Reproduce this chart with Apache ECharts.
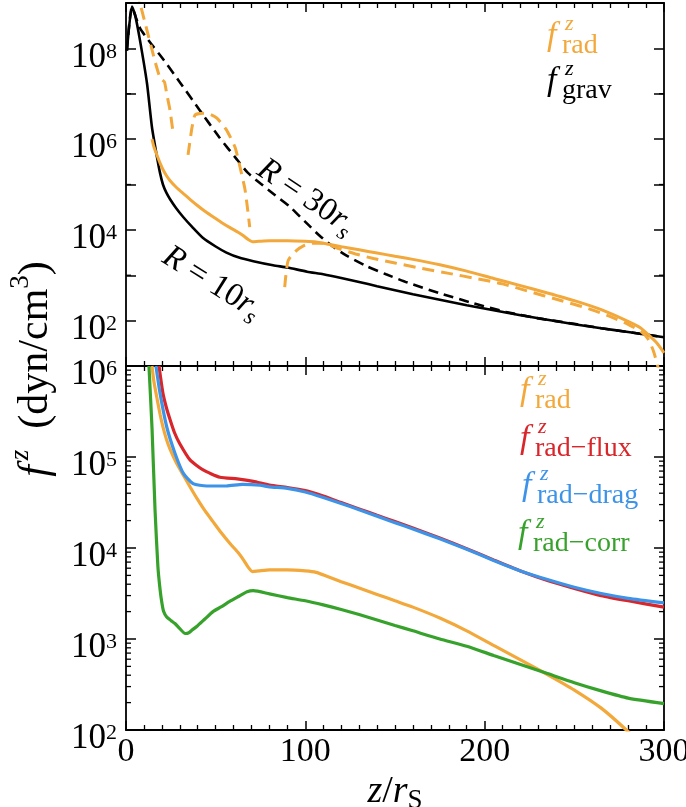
<!DOCTYPE html>
<html><head><meta charset="utf-8">
<script src="https://cdn.jsdelivr.net/npm/echarts@6/dist/echarts.min.js"></script>
<style>html,body{margin:0;padding:0;background:#fff}#c{width:686px;height:807px}</style>
</head><body><div id="c"></div>
<script>
// ---------- data (z / r_S , f^z in dyn/cm^3) ----------
const xTicks = [0, 100, 200, 300];
const topYLabelExps = [2, 4, 6, 8];
const topMinorExps = [3, 5, 7];
const botYLabelExps = [2, 3, 4, 5, 6];
const minorMults = [2, 3, 4, 5, 6, 7, 8, 9];

// top panel: gravity R=10 (solid black)
const gravR10 = [[0.5,8.9e7],[3.3,8.3e8],[5,5.6e8],[7.8,1.5e8],[11.7,1.7e7],[14.5,1.8e6],[17.3,4.0e5],[19,1.78e5],[20.6,1.0e5],[22.5,6.6e4],[24.5,4.8e4],[28,3.0e4],[32,1.9e4],[37,1.15e4],[43,6.6e3],[50,4.3e3],[56,3.16e3],[63,2.45e3],[71,2.04e3],[82,1.66e3],[90,1.48e3],[101,1.2e3],[110,1.05e3],[120,870],[130,708],[140,575],[150,468],[160,380],[175,288],[190,219],[205,170],[220,132],[235,105],[250,83],[265,68],[280,56],[300,43]];
// top panel: gravity R=30 (dashed black)
const gravR30 = [[0.5,8.9e7],[3.3,7.9e8],[7.8,2.8e8],[14,1.26e8],[20,6.3e7],[30,1.8e7],[41,4.4e6],[52,1.1e6],[62,3.5e5],[68,1.8e5],[75,1.05e5],[83,5.9e4],[91.5,3.2e4],[100,1.5e4],[108,7.4e3],[115,4.4e3],[123,2.7e3],[134,1.6e3],[145,1.05e3],[157,690],[175,400],[194,240],[212,155],[230,112],[250,85],[265,68],[280,56],[300,43]];
// radiation force R=10 (solid orange, both panels)
const fRadR10 = [[14.5,1.0e6],[15.5,6.9e5],[17.3,4.4e5],[19,2.95e5],[20.6,2.14e5],[22.5,1.58e5],[24.5,1.23e5],[28,8.7e4],[32,6.3e4],[36,4.6e4],[40,3.4e4],[44,2.57e4],[48.5,1.95e4],[53,1.48e4],[58,1.12e4],[62.5,8.9e3],[65.5,7.4e3],[68,6.2e3],[70.5,5.5e3],[74,5.6e3],[80,5.75e3],[90,5.75e3],[100,5.6e3],[106,5.4e3],[112,4.9e3],[120,4.27e3],[130,3.63e3],[140,3.09e3],[150,2.63e3],[160,2.24e3],[175,1.7e3],[190,1.23e3],[205,850],[220,590],[235,407],[250,275],[265,174],[279,100],[287,69],[292,46],[296,32],[300,19.5]];
// radiation force R=30 (dashed orange), three branches
const fRadR30a = [[6.5,2e9],[7.8,1e9],[11.7,2.5e8],[16,5.5e7],[19,2.2e7],[20.3,2.0e7],[21.5,1.8e7],[22.7,1.0e7],[24.5,4.4e6],[26.4,1.26e6]];
const fRadR30b = [[34.6,4.5e5],[36.8,1.8e6],[38.5,3.4e6],[43,3.7e6],[47,3.5e6],[50.7,2.9e6],[56,1.6e6],[60.8,6.6e5],[63.6,2.4e5],[66.4,7.6e4],[69,1.15e4]];
const fRadR30c = [[88.5,550],[90.4,2.1e3],[95,3.5e3],[98.7,4.4e3],[104,5.1e3],[110,5.1e3],[119,3.8e3],[128,2.95e3],[138,2.34e3],[150,1.86e3],[165,1.41e3],[180,1.1e3],[195,850],[210,645],[225,437],[240,295],[255,200],[268,132],[280,83],[287,58],[291,40],[294,22],[296.5,10],[298,5]];
// bottom panel components
const fRadFlux = [[18.4,1.0e6],[20.6,5.0e5],[22.5,3.5e5],[24.5,2.6e5],[27,1.86e5],[30,1.4e5],[35.7,9.3e4],[43,7.2e4],[52.4,6.0e4],[62,5.75e4],[71,5.4e4],[80,4.9e4],[90,4.62e4],[100,4.27e4],[110,3.72e4],[120,3.16e4],[130,2.69e4],[140,2.29e4],[150,1.95e4],[160,1.66e4],[175,1.29e4],[190,9.8e3],[205,7.4e3],[220,5.6e3],[235,4.4e3],[250,3.6e3],[265,3.0e3],[280,2.63e3],[300,2.24e3]];
const fRadDrag = [[16.7,1.0e6],[19,5.0e5],[22.7,2.15e5],[27.3,1.1e5],[32,6.6e4],[37.4,5.1e4],[45,4.8e4],[56,4.8e4],[65,5.0e4],[74.7,4.9e4],[80,4.7e4],[90,4.52e4],[100,4.12e4],[110,3.59e4],[120,3.09e4],[130,2.63e4],[140,2.24e4],[150,1.9e4],[160,1.62e4],[175,1.26e4],[190,9.7e3],[205,7.3e3],[220,5.6e3],[235,4.5e3],[250,3.7e3],[265,3.16e3],[280,2.8e3],[300,2.5e3]];
const fRadCorr = [[12.8,1.0e6],[14.5,2.1e5],[16.2,2.6e4],[17.8,6.2e3],[19,3.5e3],[20,2.5e3],[21,2.0e3],[22.7,1.74e3],[25,1.6e3],[27.3,1.48e3],[30,1.3e3],[33,1.15e3],[35,1.17e3],[37,1.26e3],[39.6,1.38e3],[44,1.66e3],[48.5,2.0e3],[53,2.25e3],[58,2.6e3],[63,2.95e3],[67.5,3.3e3],[71,3.4e3],[80,3.13e3],[90,2.85e3],[100,2.63e3],[110,2.37e3],[120,2.11e3],[130,1.86e3],[140,1.62e3],[150,1.41e3],[160,1.23e3],[175,1.0e3],[190,832],[205,660],[220,525],[235,417],[250,331],[265,269],[280,224],[300,195]];

// ---------- styling ----------
const SERIF = "'Liberation Serif','DejaVu Serif','Times New Roman',serif";
const ORANGE = '#F2A83A', RED = '#D8262B', BLUE = '#3D93E8', GREEN = '#37A22B', BLACK = '#000';

const chart = echarts.init(document.getElementById('c'), null, {renderer: 'canvas'});

const tickLine = {color: '#000', width: 1.5};
function xAx(grid, pos, labels) {
  return {
    type: 'value', gridIndex: grid, position: pos, min: 0, max: 300, interval: 100,
    axisLine: {show: true, onZero: false, lineStyle: {color: '#000', width: 1.8}},
    axisTick: {show: true, inside: true, length: 9, lineStyle: tickLine},
    minorTick: {show: true, splitNumber: 10, length: 5, lineStyle: {color: '#000', width: 1.3}},
    splitLine: {show: false}, minorSplitLine: {show: false},
    axisLabel: labels ? {show: true, color: '#000', fontFamily: SERIF, fontSize: 34, margin: 5,
      formatter: v => xTicks.includes(v) ? String(v) : ''} : {show: false},
  };
}
const yRich = {
  b: {color: '#000', fontFamily: SERIF, fontSize: 35, lineHeight: 34, verticalAlign: 'bottom'},
  e: {color: '#000', fontFamily: SERIF, fontSize: 22, lineHeight: 18, verticalAlign: 'top'}
};
function yAx(grid, pos, min, max, exps, labels) {
  return {
    type: 'log', logBase: 10, gridIndex: grid, position: pos, min: min, max: max,
    axisLine: {show: true, onZero: false, lineStyle: {color: '#000', width: 1.8}},
    axisTick: {show: true, inside: true, length: 10, lineStyle: tickLine},
    splitLine: {show: false},
    axisLabel: labels ? {show: true, margin: 9, padding: [19, 0, 0, 0], rich: yRich,
      formatter: v => { const n = Math.round(Math.log10(v)); return exps.includes(n) ? '{b|10}{e|' + n + '}' : ''; }} : {show: false},
  };
}

function line(name, data, color, width, xi, yi, dash, z) {
  return {
    type: 'line', name, data, xAxisIndex: xi, yAxisIndex: yi, showSymbol: false, symbol: 'none',
    smooth: 0.2, clip: true, z: z || 2, animation: false,
    lineStyle: {color, width, type: dash || 'solid', cap: 'butt'}
  };
}

// decorative short ticks (positions derived from axis scales)
function tickSeries(xi, yi, vals, len) {
  return {
    type: 'custom', xAxisIndex: xi, yAxisIndex: yi, silent: true, z: 5, animation: false,
    encode: {x: 0, y: 1},
    data: vals.map(v => [0, v, len]),
    renderItem: (params, api) => {
      const v = api.value(1), l = api.value(2);
      const a = api.coord([0, v]), b = api.coord([300, v]);
      return {type: 'group', children: [
        {type: 'line', shape: {x1: a[0], y1: a[1], x2: a[0] + l, y2: a[1]}, style: {stroke: '#000', lineWidth: 1.3}},
        {type: 'line', shape: {x1: b[0], y1: b[1], x2: b[0] - l, y2: b[1]}, style: {stroke: '#000', lineWidth: 1.3}}
      ]};
    }
  };
}
const topMinorVals = topMinorExps.map(k => Math.pow(10, k));
const botMinorVals = [];
[2, 3, 4, 5].forEach(k => minorMults.forEach(m => botMinorVals.push(m * Math.pow(10, k))));

function legendEntry(x, y, color, sub) {
  return {type: 'group', x: x, y: y, children: [
    {type: 'text', x: 0, y: 0, style: {text: 'f', fill: color, font: 'italic 34px ' + SERIF, verticalAlign: 'middle', align: 'left'}},
    {type: 'text', x: 18, y: -12, style: {text: 'z', fill: color, font: 'italic 22px ' + SERIF, verticalAlign: 'middle', align: 'left'}},
    {type: 'text', x: 15, y: 9, style: {text: sub, fill: color, font: '28px ' + SERIF, verticalAlign: 'middle', align: 'left'}}
  ]};
}
const annRich = {
  i: {fill: '#000', fontFamily: SERIF, fontStyle: 'italic', fontSize: 33, lineHeight: 42, verticalAlign: 'middle'},
  t: {fill: '#000', fontFamily: SERIF, fontSize: 33, lineHeight: 42, verticalAlign: 'middle'},
  s: {fill: '#000', fontFamily: SERIF, fontStyle: 'italic', fontSize: 23, lineHeight: 23, verticalAlign: 'bottom'}
};
const yNameRich = {
  f: {fill: '#000', fontFamily: SERIF, fontStyle: 'italic', fontSize: 42, lineHeight: 58, verticalAlign: 'middle'},
  z: {fill: '#000', fontFamily: SERIF, fontStyle: 'italic', fontSize: 27, lineHeight: 27, verticalAlign: 'top', padding: [0, 0, 0, 5]},
  t: {fill: '#000', fontFamily: SERIF, fontSize: 42, lineHeight: 58, verticalAlign: 'middle'},
  c: {fill: '#000', fontFamily: SERIF, fontSize: 27, lineHeight: 27, verticalAlign: 'top'}
};

const option = {
  animation: false,
  backgroundColor: '#fff',
  grid: [
    {left: 126, top: 3, width: 538, height: 363, outerBoundsMode: 'none', containLabel: false},
    {left: 126, top: 366, width: 538, height: 364, outerBoundsMode: 'none', containLabel: false}
  ],
  xAxis: [
    xAx(0, 'bottom', false), xAx(0, 'top', false),
    Object.assign(xAx(1, 'bottom', true), {
      name: '{i|z}{t|/}{i|r}{s|S}', nameLocation: 'middle', nameGap: 40,
      nameTextStyle: {rich: {
        i: {color: '#000', fontFamily: SERIF, fontStyle: 'italic', fontSize: 38, lineHeight: 44, verticalAlign: 'middle'},
        t: {color: '#000', fontFamily: SERIF, fontSize: 38, lineHeight: 44, verticalAlign: 'middle'},
        s: {color: '#000', fontFamily: SERIF, fontSize: 27, lineHeight: 26, verticalAlign: 'bottom'}
      }}
    }),
    xAx(1, 'top', false)
  ],
  yAxis: [
    yAx(0, 'left', 10, 1e9, topYLabelExps, true), yAx(0, 'right', 10, 1e9, topYLabelExps, false),
    yAx(1, 'left', 100, 1e6, botYLabelExps, true), yAx(1, 'right', 100, 1e6, botYLabelExps, false)
  ],
  series: [
    line('gravR30', gravR30, BLACK, 2.6, 0, 0, [10, 6], 2),
    line('gravR10', gravR10, BLACK, 2.6, 0, 0, 'solid', 3),
    line('fradR10', fRadR10, ORANGE, 3, 0, 0, 'solid', 4),
    line('fradR30a', fRadR30a, ORANGE, 3, 0, 0, [12, 7], 4),
    line('fradR30b', fRadR30b, ORANGE, 3, 0, 0, [12, 7], 4),
    line('fradR30c', fRadR30c, ORANGE, 3, 0, 0, [12, 7], 4),
    line('frad', fRadR10, ORANGE, 3.2, 2, 2, 'solid', 2),
    line('fradFlux', fRadFlux, RED, 3.2, 2, 2, 'solid', 3),
    line('fradDrag', fRadDrag, BLUE, 3.2, 2, 2, 'solid', 4),
    line('fradCorr', fRadCorr, GREEN, 3.2, 2, 2, 'solid', 5),
    tickSeries(0, 0, topMinorVals, 5),
    tickSeries(2, 2, botMinorVals, 5)
  ],
  graphic: [
    legendEntry(547, 36.5, ORANGE, 'rad'),
    legendEntry(547, 81.5, BLACK, 'grav'),
    legendEntry(520, 391.5, ORANGE, 'rad'),
    legendEntry(520, 439.5, RED, 'rad\u2212flux'),
    legendEntry(522, 486.5, BLUE, 'rad\u2212drag'),
    legendEntry(518, 534.5, GREEN, 'rad\u2212corr'),
    {type: 'text', x: 306, y: 197, rotation: -34 * Math.PI / 180,
      style: {text: '{i|R}{t| = 30}{i|r}{s|s}', rich: annRich, align: 'center', verticalAlign: 'middle'}},
    {type: 'text', x: 212, y: 283, rotation: -32 * Math.PI / 180,
      style: {text: '{i|R}{t| = 10}{i|r}{s|s}', rich: annRich, align: 'center', verticalAlign: 'middle'}},
    {type: 'text', x: 36, y: 369, rotation: Math.PI / 2,
      style: {text: '{f|f}{z|z}{t|  (dyn/cm}{c|3}{t|)}', rich: yNameRich, align: 'center', verticalAlign: 'middle'}}
  ]
};
chart.setOption(option);
</script></body></html>
